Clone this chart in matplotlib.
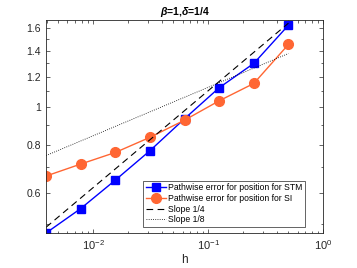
import numpy as np
import matplotlib
matplotlib.use("Agg")
import matplotlib.pyplot as plt
from matplotlib.ticker import FixedLocator, NullFormatter

plt.rcParams["font.family"] = ["Liberation Sans", "DejaVu Sans"]
plt.rcParams["mathtext.fontset"] = "custom"
plt.rcParams["mathtext.it"] = "Liberation Sans:italic:bold"
plt.rcParams["mathtext.rm"] = "Liberation Sans"

# data
h = [1/256, 1/128, 1/64, 1/32, 1/16, 1/8, 1/4, 1/2]
err_stm = [0.474, 0.548, 0.649, 0.773, 0.935, 1.124, 1.299, 1.63]
err_si = [0.665, 0.714, 0.765, 0.837, 0.927, 1.04, 1.153, 1.454]
c_quarter = 1.962
c_eighth = 1.502

axis_col = "#262626"

fig = plt.figure(figsize=(3.57, 2.68), dpi=100)
ax = fig.add_axes([0.129, 0.1306, 0.776, 0.7944])

hh = np.array(h)
ax.loglog(h, err_stm, "-s", color="#0000FF", markersize=5.5, linewidth=1,
          label="Pathwise error for position for STM")
ax.loglog(h, err_si, "-o", color="#FF6633", markersize=7, linewidth=1,
          label="Pathwise error for position for SI")
ax.loglog(h, c_quarter * hh ** 0.25, "--", color="black", linewidth=0.8,
          dashes=(6, 4), label="Slope 1/4")
ax.loglog(h, c_eighth * hh ** 0.125, ":", color="black", linewidth=0.6,
          label="Slope 1/8")

ax.set_xlim(1/256, 1)
ax.set_ylim(0.474, 1.68)

ax.yaxis.set_major_locator(FixedLocator([0.6, 0.8, 1.0, 1.2, 1.4, 1.6]))
ax.yaxis.set_major_formatter(plt.FuncFormatter(lambda v, p: f"{v:g}"))
ax.yaxis.set_minor_locator(FixedLocator([0.5, 0.7, 0.9, 1.1, 1.3, 1.5]))
ax.yaxis.set_minor_formatter(NullFormatter())

ax.tick_params(which="both", direction="in", top=True, right=True,
               colors=axis_col, labelsize=7.5, width=0.5)
ax.tick_params(which="major", length=3)
ax.tick_params(which="minor", length=1.8)
ax.tick_params(axis="x", which="major", labelsize=8, pad=4)
for s in ax.spines.values():
    s.set_color(axis_col)
    s.set_linewidth(0.6)

ax.set_xlabel("h", fontsize=8.5, color=axis_col, labelpad=1)
ax.set_title(r"$\beta$=1,$\delta$=1/4", fontsize=7.5, fontweight="bold", pad=4)

leg = ax.legend(loc="lower right", bbox_to_anchor=(0.935, 0.028), fontsize=6.2,
                frameon=True, fancybox=False, framealpha=1, edgecolor=axis_col,
                handlelength=2.3, borderpad=0.3, labelspacing=0.2,
                handletextpad=0.3, borderaxespad=0)
leg.get_frame().set_linewidth(0.5)

fig.savefig("out.png", dpi=100)
